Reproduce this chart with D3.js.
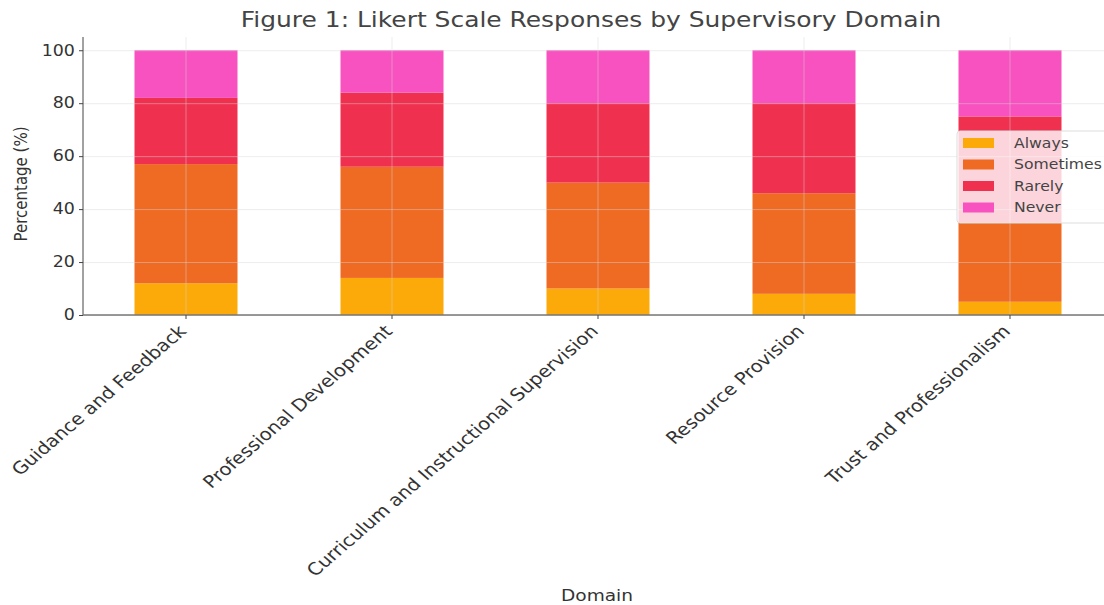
<!DOCTYPE html>
<html><head><meta charset="utf-8">
<script src="https://cdn.jsdelivr.net/npm/d3@7/dist/d3.min.js"></script>
<style>body{margin:0;background:#fff}svg{display:block;font-family:"DejaVu Sans",sans-serif}svg text{font-family:"DejaVu Sans",sans-serif}</style>
</head><body><svg id="c" width="1104" height="605"></svg>
<script>
const categories = ["Guidance and Feedback","Professional Development","Curriculum and Instructional Supervision","Resource Provision","Trust and Professionalism"];
const seriesNames = ["Always","Sometimes","Rarely","Never"];
const always    = [12, 14, 10, 8, 5];
const sometimes = [45, 42, 40, 38, 30];
const rarely    = [25, 28, 30, 34, 40];
const never     = [18, 16, 20, 20, 25];
const yTicks = [0, 20, 40, 60, 80, 100];
const colors = ["#fca90a", "#ef6a23", "#f0304f", "#f752c0"];

const SX = 1.16; // horizontal stretch of text as in the reference picture
const FONT = "DejaVu Sans";
const svg = d3.select("#c");
const m = {l: 83, r: 1113, t: 37, b: 315};
const rows = categories.map((c, i) => ({cat: c, Always: always[i], Sometimes: sometimes[i], Rarely: rarely[i], Never: never[i]}));
const stack = d3.stack().keys(seriesNames)(rows);

const x = d3.scaleBand().domain(categories).range([m.l, m.r]).paddingInner(0.5).paddingOuter(0.25);
const y = d3.scaleLinear().domain([0, 105]).range([m.b, m.t]);

function stext(g, tx, ty, size, str, anchor) {
  return g.append("text").attr("transform", `translate(${tx},${ty}) scale(${SX},1)`)
    .attr("font-family", FONT)
    .attr("text-anchor", anchor || "middle").attr("font-size", size).attr("fill", "#333").text(str);
}

// bars
svg.append("g").selectAll("g").data(stack).join("g")
  .attr("fill", (d, i) => colors[i])
  .selectAll("rect").data(d => d).join("rect")
  .attr("x", d => x(d.data.cat))
  .attr("width", x.bandwidth())
  .attr("y", d => y(d[1]))
  .attr("height", d => y(d[0]) - y(d[1]));

// grid on top, faint
const grid = svg.append("g").attr("stroke", "#d8d8d8").attr("stroke-opacity", 0.45).attr("stroke-width", 1);
grid.selectAll("line.h").data(yTicks).join("line").attr("class", "h")
  .attr("x1", m.l).attr("x2", m.r).attr("y1", d => y(d) + 0.5).attr("y2", d => y(d) + 0.5);
grid.selectAll("line.v").data(categories).join("line").attr("class", "v")
  .attr("x1", d => x(d) + x.bandwidth() / 2).attr("x2", d => x(d) + x.bandwidth() / 2)
  .attr("y1", m.t).attr("y2", m.b);

// y axis
const yAxis = svg.append("g").attr("transform", `translate(${m.l},0)`)
  .call(d3.axisLeft(y).tickValues(yTicks).tickSize(4).tickPadding(3))
  .attr("font-family", FONT);
yAxis.select(".domain").attr("stroke", "#444").attr("d", `M0,${m.t}V${m.b}`);
yAxis.selectAll(".tick line").attr("stroke", "#444");
yAxis.selectAll("text").attr("font-size", 15).attr("fill", "#333")
  .attr("transform", `scale(${SX},1)`);

// x axis
const xAxis = svg.append("g").attr("transform", `translate(0,${m.b})`)
  .call(d3.axisBottom(x).tickSize(4).tickPadding(4))
  .attr("font-family", FONT);
xAxis.select(".domain").attr("stroke", "#777").attr("stroke-width", 1.5).attr("d", `M${m.l},0H${m.r}`);
xAxis.selectAll(".tick line").attr("stroke", "#444");
xAxis.selectAll("text").attr("font-size", 17).attr("fill", "#333")
  .attr("text-anchor", "end").attr("dy", "0.35em").attr("y", 0)
  .attr("transform", `scale(${SX},1) translate(-3,13) rotate(-45)`);

// labels
stext(svg, 591, 27, 21.5, "Figure 1: Likert Scale Responses by Supervisory Domain").attr("fill", "#444");
svg.append("text").attr("transform", `translate(27,${(m.t + m.b) / 2 + 8}) scale(${SX},1) rotate(-90)`)
  .attr("font-family", FONT)
  .attr("text-anchor", "middle").attr("font-size", 15).attr("fill", "#333").text("Percentage (%)");
stext(svg, 597, 601, 16, "Domain");

// legend
const lg = svg.append("g").attr("transform", "translate(957,131)");
lg.append("rect").attr("width", 160).attr("height", 92).attr("rx", 3)
  .attr("fill", "#fff").attr("fill-opacity", 0.8).attr("stroke", "#ddd");
const items = lg.selectAll("g").data(seriesNames).join("g")
  .attr("transform", (d, i) => `translate(6,${12 + i * 21.5})`);
items.append("rect").attr("width", 31).attr("height", 10).attr("y", -5).attr("fill", (d, i) => colors[i]);
items.append("text").attr("transform", `translate(51,0) scale(${SX},1)`).attr("dy", "0.35em")
  .attr("font-family", FONT)
  .attr("font-size", 13.5).attr("fill", "#444").text(d => d);
</script>
</body></html>
